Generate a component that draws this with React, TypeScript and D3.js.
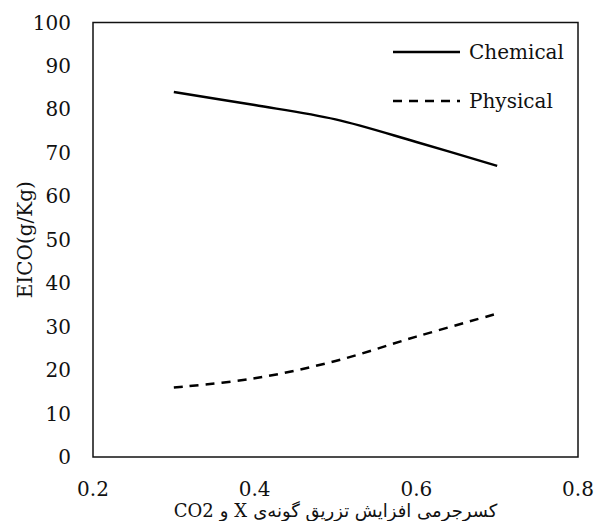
import React, { useEffect, useRef } from "react";
import * as d3 from "d3";

// values
const fractions = [0.3, 0.4, 0.5, 0.6, 0.7];
const chemical = [84, 81, 77.7, 72.5, 67];
const physical = [16, 18.1, 22.1, 27.7, 33];
const xTicks = [0.2, 0.4, 0.6, 0.8];
const yTicks = [0, 10, 20, 30, 40, 50, 60, 70, 80, 90, 100];
const seriesNames = ["Chemical", "Physical"];
// x title, pieces in visual (left to right) order so bidi can't reshuffle them
const xTitleParts = ["CO2", "و", "X", "کسرجرمی افزایش تزریق گونه‌ی"];

const W = 595;
const H = 521;

export default function App() {
  const ref = useRef<SVGSVGElement>(null);

  useEffect(() => {
    const svg = d3.select(ref.current);
    svg.selectAll("*").remove();

    const margin = { top: 22.5, right: 17, bottom: 64, left: 93 };
    const x = d3.scaleLinear().domain([0.2, 0.8]).range([margin.left, W - margin.right]);
    const y = d3.scaleLinear().domain([0, 100]).range([H - margin.bottom, margin.top]);

    const font = "'DejaVu Serif', 'DejaVu Sans', serif";

    // plot frame
    svg.append("rect")
      .attr("x", x(0.2))
      .attr("y", y(100))
      .attr("width", x(0.8) - x(0.2))
      .attr("height", y(0) - y(100))
      .attr("fill", "none")
      .attr("stroke", "#111")
      .attr("stroke-width", 1.5);

    // y tick labels
    svg.append("g")
      .selectAll("text")
      .data(yTicks)
      .enter()
      .append("text")
      .attr("x", 71)
      .attr("y", d => y(d))
      .attr("text-anchor", "end")
      .attr("dominant-baseline", "central")
      .attr("font-family", font)
      .attr("font-size", 20)
      .attr("fill", "#111")
      .text(d => d);

    // x tick labels
    svg.append("g")
      .selectAll("text")
      .data(xTicks)
      .enter()
      .append("text")
      .attr("x", d => x(d))
      .attr("y", 489)
      .attr("text-anchor", "middle")
      .attr("dominant-baseline", "central")
      .attr("font-family", font)
      .attr("font-size", 20)
      .attr("fill", "#111")
      .text(d => d3.format(".1f")(d));

    // axis titles
    svg.append("text")
      .attr("transform", `translate(25,${(y(0) + y(100)) / 2}) rotate(-90)`)
      .attr("text-anchor", "middle")
      .attr("dominant-baseline", "central")
      .attr("font-family", font)
      .attr("font-size", 20)
      .attr("fill", "#111")
      .text("EICO(g/Kg)");

    // x title built from pieces, measured and laid out left to right
    const gap = 6;
    const title = svg.append("g");
    const parts = xTitleParts.map(t =>
      title.append("text")
        .attr("y", 517)
        .attr("font-family", font)
        .attr("font-size", 18)
        .attr("fill", "#111")
        .text(t)
    );
    const widths = parts.map(p => (p.node() as SVGTextElement).getComputedTextLength());
    const total = d3.sum(widths) + gap * (parts.length - 1);
    let cx = (x(0.2) + x(0.8)) / 2 - total / 2;
    parts.forEach((p, i) => {
      p.attr("x", cx);
      cx += widths[i] + gap;
    });

    // lines
    const line = d3.line<number>()
      .x((d, i) => x(fractions[i]))
      .y(d => y(d))
      .curve(d3.curveCatmullRom.alpha(0.5));

    const series = [chemical, physical];
    const dashes = [null, "9,7"];

    series.forEach((s, i) => {
      svg.append("path")
        .datum(s)
        .attr("d", line)
        .attr("fill", "none")
        .attr("stroke", "#000")
        .attr("stroke-width", 2.5)
        .attr("stroke-dasharray", dashes[i]);
    });

    // legend
    const legend = svg.append("g");
    seriesNames.forEach((name, i) => {
      const ly = 52 + i * 49;
      legend.append("line")
        .attr("x1", 393)
        .attr("x2", 460)
        .attr("y1", ly)
        .attr("y2", ly)
        .attr("stroke", "#000")
        .attr("stroke-width", 2.5)
        .attr("stroke-dasharray", dashes[i]);
      legend.append("text")
        .attr("x", 469)
        .attr("y", ly)
        .attr("dominant-baseline", "central")
        .attr("font-family", font)
        .attr("font-size", 20)
        .attr("fill", "#111")
        .text(name);
    });
  }, []);

  return (
    <svg
      ref={ref}
      width={W}
      height={H}
      style={{ position: "absolute", left: 0, top: 0, background: "#fff" }}
    />
  );
}
